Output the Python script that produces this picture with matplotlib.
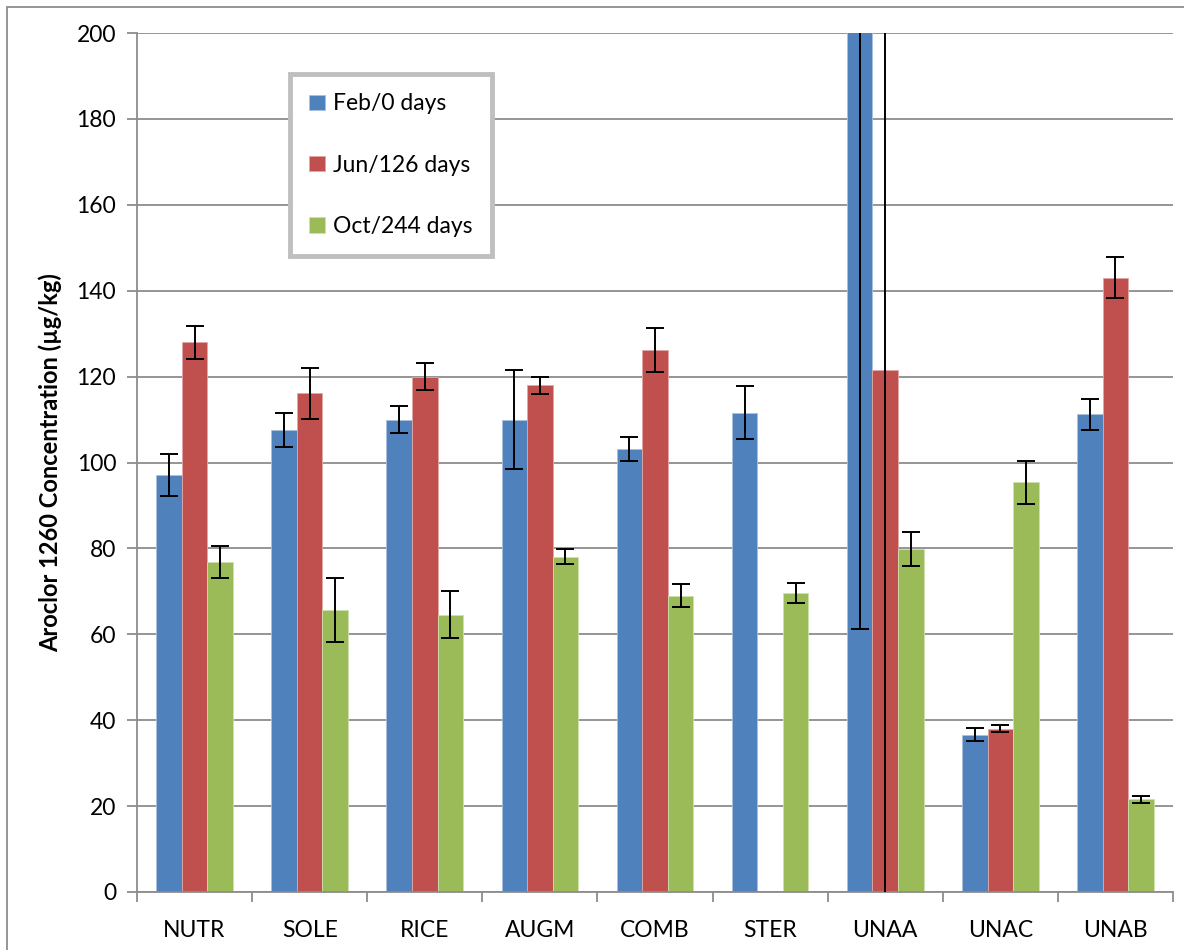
import numpy as np
import matplotlib.pyplot as plt
from matplotlib.patches import Rectangle

plt.rcParams['font.family'] = ['Lato', 'DejaVu Sans']

# data
categories = ['NUTR', 'SOLE', 'RICE', 'AUGM', 'COMB', 'STER', 'UNAA', 'UNAC', 'UNAB']
feb = [97.1, 107.6, 110.0, 110.0, 103.1, 111.6, 330.0, 36.6, 111.2]
feb_err = [4.9, 4.0, 3.2, 11.5, 2.8, 6.1, 268.7, 1.5, 3.6]
jun = [128.0, 116.1, 120.0, 118.0, 126.1, np.nan, 121.5, 38.0, 143.0]
jun_err = [3.8, 6.0, 3.2, 2.0, 5.1, np.nan, 135.0, 0.8, 4.8]
oct_ = [76.9, 65.7, 64.6, 78.1, 69.0, 69.7, 79.9, 95.4, 21.6]
oct_err = [3.7, 7.4, 5.4, 1.7, 2.6, 2.3, 4.0, 5.0, 0.8]
series = ['Feb/0 days', 'Jun/126 days', 'Oct/244 days']
colors = ['#4F81BD', '#C0504D', '#9BBB59']
edges = ['#a9c0de', '#e0a8a6', '#cde0ad']

fig = plt.figure(figsize=(11.84, 9.5), dpi=100)
ax = fig.add_axes([137/1184, 1-892/950, (1173-137)/1184, (892-33)/950])

x = np.arange(len(categories))
w = 0.222
for k, (vals, errs) in enumerate([(feb, feb_err), (jun, jun_err), (oct_, oct_err)]):
    ax.bar(x + (k-1)*w, vals, w, color=colors[k], edgecolor=edges[k], linewidth=0.6,
           label=series[k], zorder=2)
    ax.errorbar(x + (k-1)*w, vals, yerr=errs, fmt='none', ecolor='black',
                elinewidth=1.4, capsize=6.5, capthick=1.4, zorder=3)

ax.set_ylim(0, 200)
ax.set_xlim(-0.5, len(categories)-0.5)
ax.set_yticks(np.arange(0, 201, 20))
ax.yaxis.grid(True, color='#8c8c8c', linewidth=1.3, zorder=0)
ax.set_axisbelow(True)

# category boundaries get the tick marks, labels sit between them
ax.set_xticks(np.arange(-0.5, len(categories), 1.0))
ax.set_xticklabels([])
ax.set_xticks(x, minor=True)
ax.set_xticklabels(categories, minor=True)
ax.tick_params(axis='x', which='major', length=7, width=1.3, color='#8c8c8c')
ax.tick_params(axis='x', which='minor', length=0, pad=20, labelsize=16.5)
ax.tick_params(axis='y', length=7, width=1.3, color='#8c8c8c', pad=8, labelsize=16.5)

for s in ['top', 'right']:
    ax.spines[s].set_visible(False)
for s in ['left', 'bottom']:
    ax.spines[s].set_color('#8c8c8c')
    ax.spines[s].set_linewidth(1.3)

ax.set_ylabel('Aroclor 1260 Concentration (µg/kg)', fontsize=17, fontweight='bold', labelpad=10)

leg = ax.legend(loc='upper left', bbox_to_anchor=(290/1184, 1-74/950),
                bbox_transform=fig.transFigure, borderaxespad=0, fontsize=16.5,
                handlelength=0.68, handleheight=0.68, handletextpad=0.35,
                labelspacing=1.75, borderpad=0.85, fancybox=False, framealpha=1)
leg.get_frame().set_edgecolor('#bfbfbf')
leg.get_frame().set_linewidth(3.5)

# outer chart border
fig.patches.append(Rectangle((7/1184, -0.1), 1.2, 1.1 - 7/950, transform=fig.transFigure,
                             fill=False, edgecolor='#8c8c8c', linewidth=1.3))

plt.savefig('out.png', dpi=100)
